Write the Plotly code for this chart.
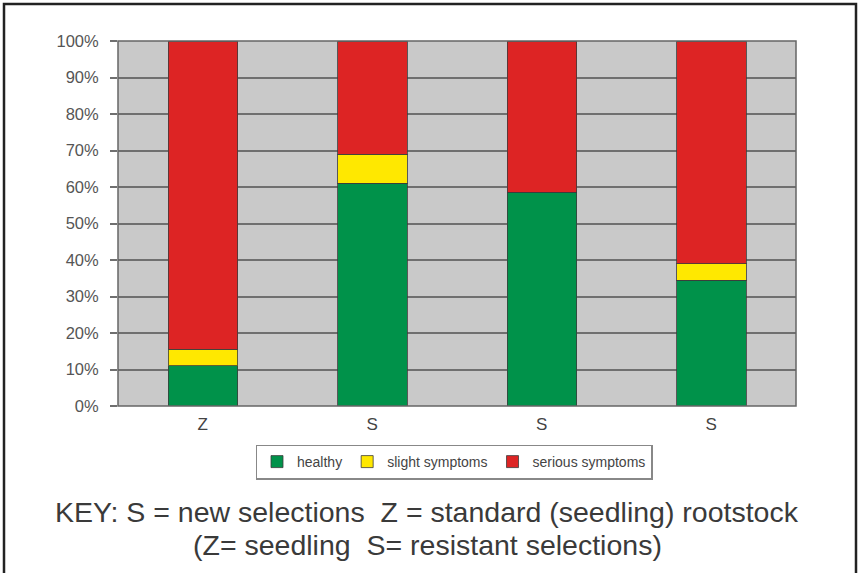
import plotly.graph_objects as go

categories = ["Z", "S", "S", "S"]
healthy = [11, 61, 58.5, 34.5]
slight = [4.5, 8, 0, 4.5]
serious = [84.5, 31, 41.5, 61]
y_ticks = [0, 10, 20, 30, 40, 50, 60, 70, 80, 90, 100]
y_tick_labels = [f"{v}%" for v in y_ticks]
key_lines = ["KEY: S = new selections  Z = standard (seedling) rootstock",
             "(Z= seedling  S= resistant selections)"]

x_pos = list(range(len(categories)))

W, H = 860, 573
L, R, T, B = 118, 796, 41, 406

fig = go.Figure()
line_style = dict(color="rgba(60,60,60,0.8)", width=1)
fig.add_bar(x=x_pos, y=healthy, name="healthy", marker=dict(color="#00924A", line=line_style))
fig.add_bar(x=x_pos, y=slight, name="slight symptoms", marker=dict(color="#FFE800", line=line_style))
fig.add_bar(x=x_pos, y=serious, name="serious symptoms", marker=dict(color="#DD2424", line=line_style))

def px_x(p):
    return (p - L) / (R - L)

def px_y(p):
    return (B - p) / (B - T)

shapes = [
    dict(type="rect", xref="paper", yref="paper", x0=px_x(4), x1=px_x(856), y0=px_y(4), y1=px_y(600),
         line=dict(color="#222222", width=2.5), fillcolor="rgba(0,0,0,0)", layer="below"),
    dict(type="rect", xref="paper", yref="paper", x0=0, x1=1, y0=0, y1=1,
         line=dict(color="#666666", width=1.5), fillcolor="rgba(0,0,0,0)", layer="above"),
]

key_font = dict(family="Liberation Sans, Arial, sans-serif", size=28.5, color="#3a3a3a")
annotations = [
    dict(text=key_lines[0], xref="paper", yref="paper", x=px_x(427), y=px_y(512),
         showarrow=False, font=key_font, xanchor="center", yanchor="middle"),
    dict(text=key_lines[1], xref="paper", yref="paper", x=px_x(427), y=px_y(545),
         showarrow=False, font=key_font, xanchor="center", yanchor="middle"),
]

fig.update_layout(
    width=W, height=H,
    margin=dict(l=L, r=W - R, t=T, b=H - B, pad=0),
    barmode="stack",
    bargap=0.59,
    paper_bgcolor="white",
    plot_bgcolor="#C9C9C9",
    font=dict(family="Liberation Sans, Arial, sans-serif", color="#444444"),
    showlegend=True,
    legend=dict(orientation="h", x=px_x(454), y=px_y(462), xanchor="center", yanchor="middle",
                bordercolor="#888888", borderwidth=1.5, bgcolor="white",
                font=dict(size=14, color="#444444"), traceorder="normal",
                itemwidth=30, tracegroupgap=0),
    shapes=shapes,
    annotations=annotations,
)
fig.update_xaxes(tickvals=x_pos, ticktext=categories, range=[-0.5, 3.5], showgrid=False,
                 tickfont=dict(size=17, color="#444444"), ticks="", showline=False, zeroline=False,
                 ticklabelstandoff=6)
fig.update_yaxes(range=[0, 100], tickvals=y_ticks, ticktext=y_tick_labels, showgrid=True,
                 gridcolor="#6f6f6f", gridwidth=1.5, ticks="outside", ticklen=7, tickcolor="#6f6f6f",
                 tickwidth=1.5, tickfont=dict(size=16.5, color="#555555"), zeroline=False, showline=False,
                 ticklabelstandoff=8, layer="below traces")

fig.write_html("out.html", config={"displayModeBar": False},
               post_script="document.body.style.margin='0';")
